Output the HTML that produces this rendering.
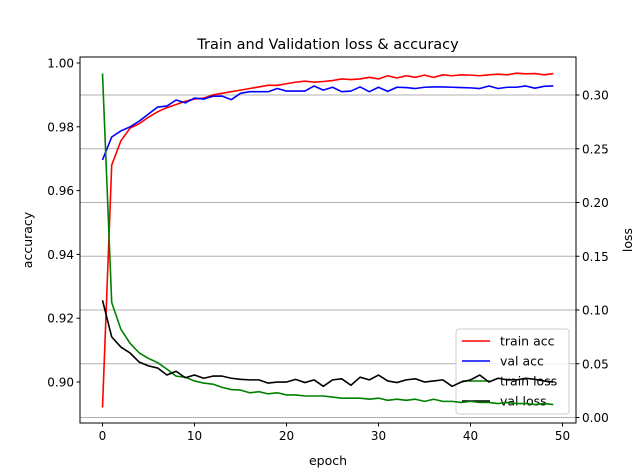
<!DOCTYPE html>
<html><head><meta charset="utf-8"><style>
html,body{margin:0;padding:0;background:#fff;}
svg{display:block;font-family:"DejaVu Sans","Liberation Sans",sans-serif;}
</style></head><body>
<svg id="chart" width="640" height="476" viewBox="0 0 640 476" xmlns="http://www.w3.org/2000/svg">
<rect x="0" y="0" width="640" height="476" fill="#fff"/>
<text x="328" y="49" font-size="14.5" text-anchor="middle">Train and Validation loss &amp; accuracy</text>
<g id="grid"></g>
<g id="legend"></g>
<g id="series"></g>
<g id="axes"></g>
<text x="328" y="465" font-size="12.5" text-anchor="middle">epoch</text>
<text x="32" y="240" font-size="12.5" text-anchor="middle" transform="rotate(-90 32 240)">accuracy</text>
<text x="632" y="240" font-size="12.5" text-anchor="middle" transform="rotate(-90 632 240)">loss</text>
</svg>
<script>
const trainAcc=[0.892,0.968,0.9756,0.9796,0.981,0.983,0.9847,0.986,0.987,0.988,0.9887,0.989,0.990,0.9905,0.991,0.9915,0.992,0.9925,0.993,0.993,0.9935,0.994,0.9943,0.994,0.9942,0.9945,0.995,0.9948,0.995,0.9955,0.995,0.996,0.9953,0.996,0.9955,0.9962,0.9955,0.9963,0.996,0.9963,0.9962,0.996,0.9963,0.9965,0.9963,0.9968,0.9966,0.9967,0.9963,0.9967];
const valAcc=[0.9696,0.9768,0.9787,0.980,0.9818,0.984,0.9862,0.9865,0.9884,0.9875,0.989,0.9887,0.9896,0.9896,0.9885,0.9905,0.991,0.991,0.991,0.992,0.9912,0.9912,0.9912,0.9928,0.9915,0.9924,0.991,0.9912,0.9925,0.991,0.9924,0.9911,0.9924,0.9923,0.992,0.9924,0.9925,0.9925,0.9924,0.9923,0.9922,0.992,0.9928,0.992,0.9924,0.9924,0.9928,0.9921,0.9927,0.9928];
const trainLoss=[0.32,0.107,0.082,0.069,0.060,0.055,0.051,0.045,0.0385,0.0375,0.034,0.032,0.031,0.028,0.026,0.0255,0.023,0.024,0.022,0.023,0.021,0.021,0.020,0.020,0.020,0.019,0.018,0.018,0.018,0.017,0.018,0.016,0.017,0.016,0.017,0.015,0.017,0.015,0.015,0.014,0.015,0.014,0.014,0.013,0.014,0.013,0.013,0.012,0.013,0.012];
const valLoss=[0.109,0.075,0.0655,0.060,0.0515,0.048,0.046,0.0395,0.043,0.037,0.0395,0.0365,0.0385,0.0385,0.0365,0.0355,0.035,0.035,0.032,0.033,0.033,0.0355,0.0325,0.035,0.029,0.035,0.036,0.030,0.0375,0.035,0.0395,0.034,0.0325,0.035,0.036,0.033,0.034,0.035,0.029,0.033,0.035,0.0395,0.033,0.0365,0.035,0.035,0.0365,0.0355,0.034,0.033];
const xTicks=[0,10,20,30,40,50];
const accTicks=[0.90,0.92,0.94,0.96,0.98,1.00];
const lossTicks=[0.00,0.05,0.10,0.15,0.20,0.25,0.30];

const L=80,R=576,T=57,B=423;
const X=v=>102.5+v*9.2;
const YA=v=>63+(1.0-v)*3190;
const YL=v=>417.5-v*1075;
const NS="http://www.w3.org/2000/svg";
function mk(tag,attrs,parent){const e=document.createElementNS(NS,tag);for(const k in attrs)e.setAttribute(k,attrs[k]);parent.appendChild(e);return e;}
const grid=document.getElementById('grid'),ser=document.getElementById('series'),ax=document.getElementById('axes'),lg=document.getElementById('legend');

lossTicks.forEach(t=>{
  const g=mk('line',{x1:L,x2:R,y1:YL(t),y2:YL(t),stroke:'#b0b0b0','stroke-width':1},grid);
  
  
});

function line(arr,scale,color,name){
  const p=arr.map((v,i)=>X(i).toFixed(2)+','+scale(v).toFixed(2)).join(' ');
  const e=mk('polyline',{points:p,fill:'none',stroke:color,'stroke-width':1.6,'stroke-linejoin':'round'},ser);
  
  
}
line(trainAcc,YA,'#ff0000','train-acc-line');
line(valAcc,YA,'#0000ff','val-acc-line');
line(trainLoss,YL,'#008000','train-loss-line');
line(valLoss,YL,'#000000','val-loss-line');

const fr=mk('rect',{x:L,y:T,width:R-L,height:B-T,fill:'none',stroke:'#000','stroke-width':1},ax);



xTicks.forEach(t=>{
  mk('line',{x1:X(t),x2:X(t),y1:B,y2:B+3.5,stroke:'#000'},ax);
  const tx=mk('text',{x:X(t),y:B+17,'font-size':12,'text-anchor':'middle'},ax);
  tx.textContent=t;
  
  
});
accTicks.forEach(t=>{
  mk('line',{x1:L-3.5,x2:L,y1:YA(t),y2:YA(t),stroke:'#000'},ax);
  const tx=mk('text',{x:L-6,y:YA(t)+4.5,'font-size':12,'text-anchor':'end'},ax);
  tx.textContent=t.toFixed(2);
  
  
});
lossTicks.forEach(t=>{
  mk('line',{x1:R,x2:R+3.5,y1:YL(t),y2:YL(t),stroke:'#000'},ax);
  const tx=mk('text',{x:R+6,y:YL(t)+4.5,'font-size':12,'text-anchor':'start'},ax);
  tx.textContent=t.toFixed(2);
  
  
});

const lb=mk('rect',{x:456,y:329,width:113,height:85,rx:3,fill:'#fff','fill-opacity':0.8,stroke:'#ccc'},lg);


[['train acc','#ff0000'],['val acc','#0000ff'],['train loss','#008000'],['val loss','#000000']].forEach((e,i)=>{
  const y=341+i*20;
  mk('line',{x1:462,x2:490,y1:y,y2:y,stroke:e[1],'stroke-width':1.6},lg);
  const tx=mk('text',{x:500,y:y+4.5,'font-size':12.5},lg);
  tx.textContent=e[0];
  
  
});
</script>
</body></html>
